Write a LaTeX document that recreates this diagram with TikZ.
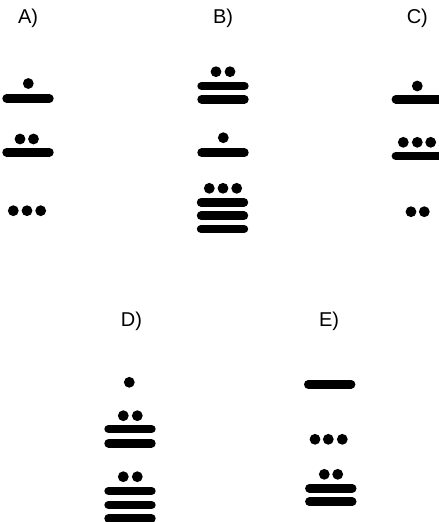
\documentclass[tikz,border=0pt]{standalone}
\usepackage{fontspec}
\setmainfont{Liberation Sans}
\begin{document}
\begin{tikzpicture}[x=1pt,y=-1pt,
  bar/.style={line width=8.6pt,line cap=round},
  dot/.style={fill=black},
  lab/.style={font=\fontsize{20}{24}\selectfont,inner sep=0pt}]
\useasboundingbox (0,0) rectangle (439,522);
\def\R{5.4}
\def\H{21.4}
% labels
\node[lab] (la) at (28,18) {A)};
\node[lab] (lb) at (223,18) {B)};
\node[lab] (lc) at (417.3,18) {C)};
\node[lab] (ld) at (131.5,321.7) {D)};
\node[lab] (le) at (329,321.7) {E)};
% A
\fill[dot] (28.3,83.5) circle (\R);
\draw[bar] (28-\H,98.5) -- (28+\H,98.5);
\fill[dot] (20,139) circle (\R) (33.5,139) circle (\R);
\draw[bar] (28-\H,152.3) -- (28+\H,152.3);
\fill[dot] (13.3,210.7) circle (\R) (27,210.7) circle (\R) (40.7,210.7) circle (\R);
% B
\fill[dot] (216,71.7) circle (\R) (230,71.7) circle (\R);
\draw[bar] (223-\H,86) -- (223+\H,86);
\draw[bar] (223-\H,99.3) -- (223+\H,99.3);
\fill[dot] (223.3,137.7) circle (\R);
\draw[bar] (223-\H,152.7) -- (223+\H,152.7);
\fill[dot] (209.3,188.3) circle (\R) (223,188.3) circle (\R) (236.7,188.3) circle (\R);
\draw[bar] (222.5-\H,202.3) -- (222.5+\H,202.3);
\draw[bar] (222.5-\H,215.7) -- (222.5+\H,215.7);
\draw[bar] (222.5-\H,229) -- (222.5+\H,229);
% C
\fill[dot] (417.3,86) circle (\R);
\draw[bar] (417.3-\H,99.3) -- (417.3+\H,99.3);
\fill[dot] (403.3,142.3) circle (\R) (417.3,142.3) circle (\R) (430.7,142.3) circle (\R);
\draw[bar] (417.3-\H,156) -- (417.3+\H,156);
\fill[dot] (411,211.7) circle (\R) (424.3,211.7) circle (\R);
% D
\fill[dot] (129.3,382.3) circle (\R);
\fill[dot] (123.3,415.7) circle (\R) (137.3,415.7) circle (\R);
\draw[bar] (130-\H,429) -- (130+\H,429);
\draw[bar] (130-\H,443.3) -- (130+\H,443.3);
\fill[dot] (123.3,476.7) circle (\R) (137.3,476.7) circle (\R);
\draw[bar] (130-\H,491) -- (130+\H,491);
\draw[bar] (130-\H,505) -- (130+\H,505);
\draw[bar] (130-\H,518.3) -- (130+\H,518.3);
% E
\draw[bar] (329.7-\H,384.3) -- (329.7+\H,384.3);
\fill[dot] (315,439.3) circle (\R) (328.3,439.3) circle (\R) (342.3,439.3) circle (\R);
\fill[dot] (324.3,474.3) circle (\R) (337.7,474.3) circle (\R);
\draw[bar] (330.8-\H,488.3) -- (330.8+\H,488.3);
\draw[bar] (330.8-\H,501.7) -- (330.8+\H,501.7);
\end{tikzpicture}
\end{document}
